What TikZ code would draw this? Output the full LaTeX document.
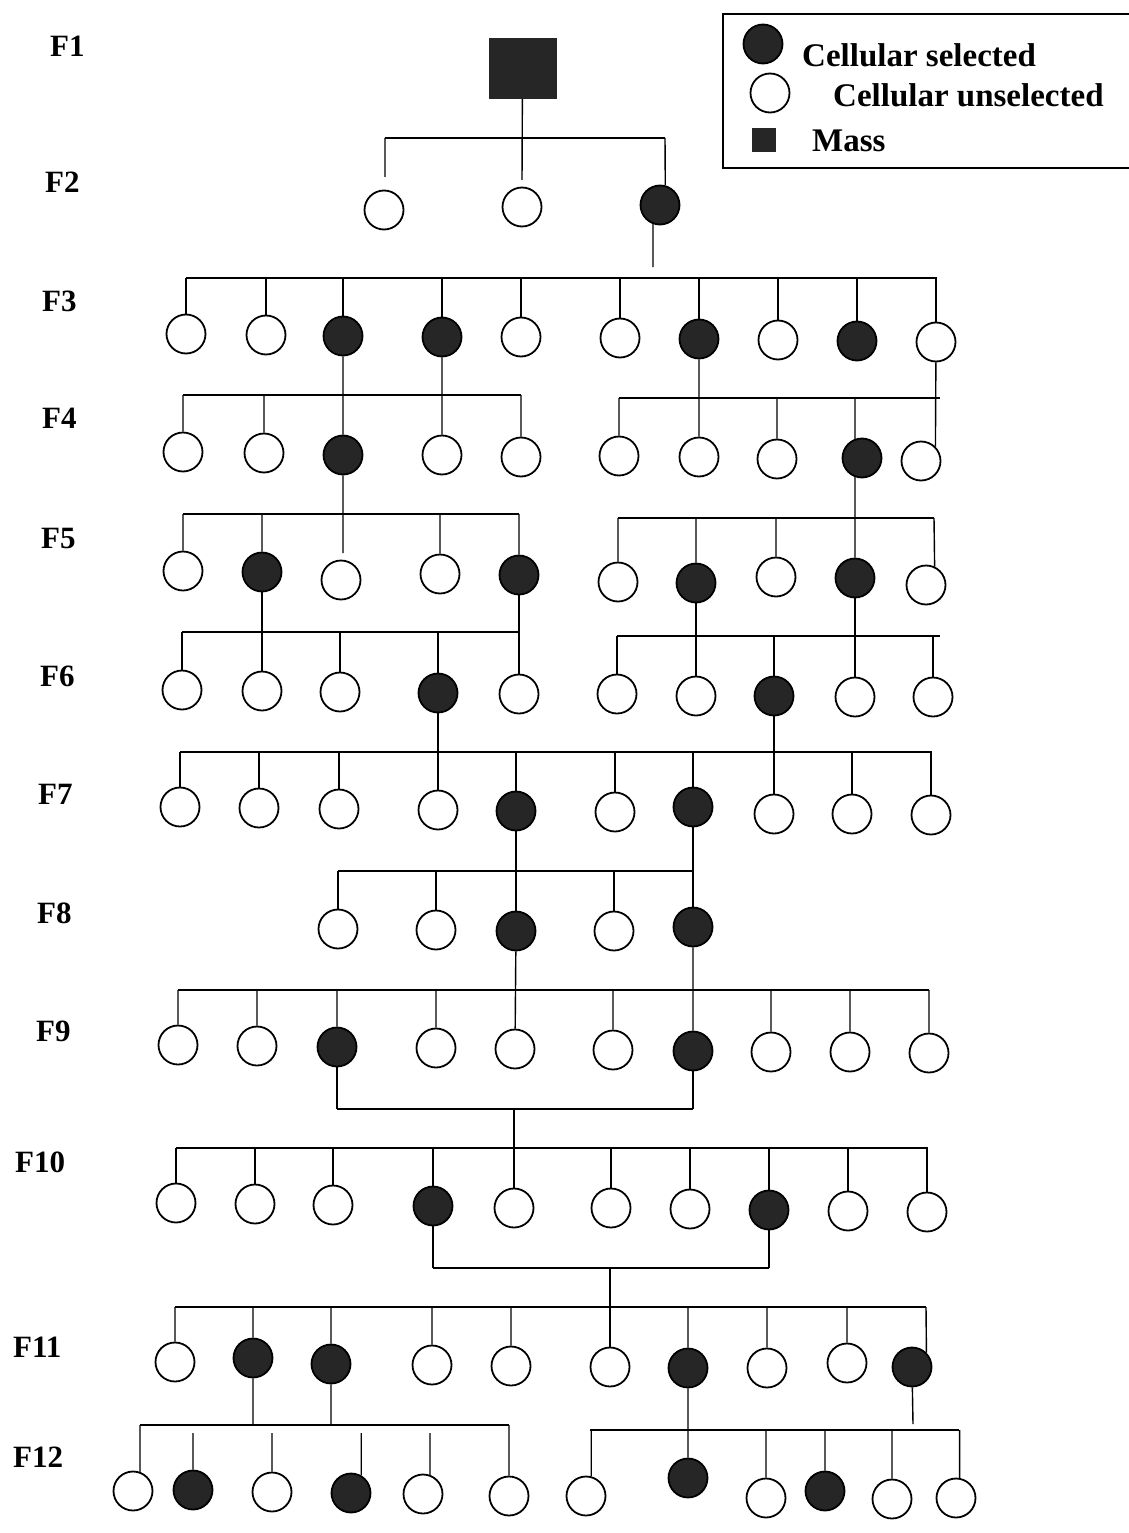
\documentclass[tikz,border=0pt]{standalone}
\usepackage{fontspec}
\setmainfont{Liberation Serif}
\usetikzlibrary{automata}
\tikzset{
  every state/.style={draw, line width=1.8pt, minimum size=39pt, inner sep=0pt},
  sel/.style={state, fill=black!85},
  unsel/.style={state, fill=white},
  mass/.style={rectangle, fill=black!85, inner sep=0pt},
  genlabel/.style={anchor=base west, inner sep=0pt, font=\fontsize{31}{36}\selectfont\bfseries},
  keytext/.style={anchor=base west, inner sep=0pt, font=\fontsize{33}{38}\selectfont\bfseries},
  hbar/.style={line width=2.2pt},
  vline/.style={line width=1.4pt},
}

\begin{document}
\begin{tikzpicture}[x=1pt, y=-1pt]
      \useasboundingbox (0,0) rectangle (1128,1533);

      % generation labels
      \node[genlabel] (l1)  at (50,57)   {F1};
      \node[genlabel] (l2)  at (45,193)  {F2};
      \node[genlabel] (l3)  at (42,311)  {F3};
      \node[genlabel] (l4)  at (42,428)  {F4};
      \node[genlabel] (l5)  at (41,548)  {F5};
      \node[genlabel] (l6)  at (40,686)  {F6};
      \node[genlabel] (l7)  at (38,804)  {F7};
      \node[genlabel] (l8)  at (37,923)  {F8};
      \node[genlabel] (l9)  at (36,1041) {F9};
      \node[genlabel] (l10) at (15,1172) {F10};
      \node[genlabel] (l11) at (13,1357) {F11};
      \node[genlabel] (l12) at (13,1467) {F12};

      % key
      \node[draw, line width=1.6pt, anchor=north west, minimum width=430pt, minimum height=154pt] (key) at (722,13) {};
      \node[sel]   (ksel)  at (763,44)  {};
      \node[unsel] (kuns)  at (770,93)  {};
      \node[mass, minimum size=24pt] (kmass) at (764,140) {};
      \node[keytext] (tsel)  at (802,67)  {Cellular selected};
      \node[keytext] (tuns)  at (833,107) {Cellular unselected};
      \node[keytext] (tmass) at (812,152) {Mass};

      % F1, F2
      \node[mass, minimum width=68pt, minimum height=61pt] (f1) at (522.5,68.5) {};
      \node[unsel] (f2a) at (384,210) {};
      \node[unsel] (f2b) at (522,207) {};
      \node[sel]   (f2c) at (660,205) {};

      % F3
      \node[unsel] (f3a) at (186,334) {};
      \node[unsel] (f3b) at (266,335) {};
      \node[sel]   (f3c) at (343,336) {};
      \node[sel]   (f3d) at (442,337) {};
      \node[unsel] (f3e) at (521,337) {};
      \node[unsel] (f3f) at (620,338) {};
      \node[sel]   (f3g) at (699,339) {};
      \node[unsel] (f3h) at (778,340) {};
      \node[sel]   (f3i) at (857,341) {};
      \node[unsel] (f3j) at (936,342) {};

      % F4
      \node[unsel] (f4a) at (183,452) {};
      \node[unsel] (f4b) at (264,453) {};
      \node[sel]   (f4c) at (343,455) {};
      \node[unsel] (f4d) at (442,455) {};
      \node[unsel] (f4e) at (521,457) {};
      \node[unsel] (f4f) at (619,456) {};
      \node[unsel] (f4g) at (699,457) {};
      \node[unsel] (f4h) at (777,459) {};
      \node[sel]   (f4i) at (862,458) {};
      \node[unsel] (f4j) at (921,461) {};

      % F5
      \node[unsel] (f5a) at (183,571) {};
      \node[sel]   (f5b) at (262,572) {};
      \node[unsel] (f5c) at (341,580) {};
      \node[unsel] (f5d) at (440,574) {};
      \node[sel]   (f5e) at (519,575) {};
      \node[unsel] (f5f) at (618,582) {};
      \node[sel]   (f5g) at (696,583) {};
      \node[unsel] (f5h) at (776,577) {};
      \node[sel]   (f5i) at (855,578) {};
      \node[unsel] (f5j) at (926,585) {};

      % F6
      \node[unsel] (f6a) at (182,690) {};
      \node[unsel] (f6b) at (262,691) {};
      \node[unsel] (f6c) at (340,692) {};
      \node[sel]   (f6d) at (438,693) {};
      \node[unsel] (f6e) at (519,694) {};
      \node[unsel] (f6f) at (617,694) {};
      \node[unsel] (f6g) at (696,696) {};
      \node[sel]   (f6h) at (774,696) {};
      \node[unsel] (f6i) at (855,697) {};
      \node[unsel] (f6j) at (933,697) {};

      % F7
      \node[unsel] (f7a) at (180,807) {};
      \node[unsel] (f7b) at (259,808) {};
      \node[unsel] (f7c) at (339,809) {};
      \node[unsel] (f7d) at (438,810) {};
      \node[sel]   (f7e) at (516,811) {};
      \node[unsel] (f7f) at (615,812) {};
      \node[sel]   (f7g) at (693,807) {};
      \node[unsel] (f7h) at (774,814) {};
      \node[unsel] (f7i) at (852,814) {};
      \node[unsel] (f7j) at (931,815) {};

      % F8
      \node[unsel] (f8a) at (338,929) {};
      \node[unsel] (f8b) at (436,930) {};
      \node[sel]   (f8c) at (516,931) {};
      \node[unsel] (f8d) at (614,931) {};
      \node[sel]   (f8e) at (693,927) {};

      % F9
      \node[unsel] (f9a) at (178,1045) {};
      \node[unsel] (f9b) at (257,1046) {};
      \node[sel]   (f9c) at (337,1047) {};
      \node[unsel] (f9d) at (436,1048) {};
      \node[unsel] (f9e) at (515,1049) {};
      \node[unsel] (f9f) at (613,1050) {};
      \node[sel]   (f9g) at (693,1051) {};
      \node[unsel] (f9h) at (771,1052) {};
      \node[unsel] (f9i) at (850,1052) {};
      \node[unsel] (f9j) at (929,1053) {};

      % F10
      \node[unsel] (f10a) at (176,1203) {};
      \node[unsel] (f10b) at (255,1204) {};
      \node[unsel] (f10c) at (333,1205) {};
      \node[sel]   (f10d) at (433,1206) {};
      \node[unsel] (f10e) at (514,1208) {};
      \node[unsel] (f10f) at (611,1208) {};
      \node[unsel] (f10g) at (690,1209) {};
      \node[sel]   (f10h) at (769,1210) {};
      \node[unsel] (f10i) at (848,1211) {};
      \node[unsel] (f10j) at (927,1212) {};

      % F11
      \node[unsel] (f11a) at (175,1362) {};
      \node[sel]   (f11b) at (253,1358) {};
      \node[sel]   (f11c) at (331,1364) {};
      \node[unsel] (f11d) at (432,1365) {};
      \node[unsel] (f11e) at (511,1366) {};
      \node[unsel] (f11f) at (610,1367) {};
      \node[sel]   (f11g) at (688,1368) {};
      \node[unsel] (f11h) at (767,1368) {};
      \node[unsel] (f11i) at (847,1363) {};
      \node[sel]   (f11j) at (912,1367) {};

      % F12
      \node[unsel] (f12a) at (133,1491) {};
      \node[sel]   (f12b) at (193,1490) {};
      \node[unsel] (f12c) at (272,1492) {};
      \node[sel]   (f12d) at (351,1493) {};
      \node[unsel] (f12e) at (423,1494) {};
      \node[unsel] (f12f) at (509,1496) {};
      \node[unsel] (f12g) at (586,1496) {};
      \node[sel]   (f12h) at (688,1478) {};
      \node[unsel] (f12i) at (766,1498) {};
      \node[sel]   (f12j) at (825,1491) {};
      \node[unsel] (f12k) at (892,1499) {};
      \node[unsel] (f12l) at (956,1498) {};

      % bar ends and loose ends
      \coordinate (b2l) at (385,138);   \coordinate (b2r) at (665,138);
      \coordinate (b3l) at (186,278);   \coordinate (b3r) at (937,278);
      \coordinate (b4l) at (183,395);   \coordinate (b4m) at (521,395);
      \coordinate (b4n) at (619,398);   \coordinate (b4r) at (940,398);
      \coordinate (b5l) at (183,514);   \coordinate (b5m) at (519,514);
      \coordinate (b5n) at (618,518);   \coordinate (b5r) at (934,518);
      \coordinate (b6l) at (182,632);   \coordinate (b6m) at (519,632);
      \coordinate (b6n) at (617,636);   \coordinate (b6r) at (940,636);
      \coordinate (b7l) at (180,752);   \coordinate (b7r) at (932,752);
      \coordinate (b8l) at (338,871);   \coordinate (b8r) at (693,871);
      \coordinate (b9l) at (178,990);   \coordinate (b9r) at (929,990);
      \coordinate (b10l) at (176,1148); \coordinate (b10r) at (928,1148);
      \coordinate (b11l) at (175,1307); \coordinate (b11r) at (926,1307);
      \coordinate (b12l) at (140,1425); \coordinate (b12m) at (509,1425);
      \coordinate (b12n) at (590,1430); \coordinate (b12r) at (959,1430);
      \coordinate (j9l) at (337,1109);  \coordinate (j9r) at (693,1109);
      \coordinate (j9m) at (514,1109);
      \coordinate (j10l) at (433,1268); \coordinate (j10r) at (769,1268);
      \coordinate (j10m) at (610,1268);
      \coordinate (d2a) at (385,177);   \coordinate (d2b) at (522,180);
      \coordinate (e2) at (653,267);    \coordinate (e5) at (343,553);
      \coordinate (e11) at (913,1424);  \coordinate (g12) at (0,1433);

      % bars
      \draw[hbar] (b2l) -- (b2r)  (b3l) -- (b3r)
                  (b4l) -- (b4m)  (b4n) -- (b4r)
                  (b5l) -- (b5m)  (b5n) -- (b5r)
                  (b6l) -- (b6m)  (b6n) -- (b6r)
                  (b7l) -- (b7r)  (b8l) -- (b8r)
                  (b9l) -- (b9r)  (b10l) -- (b10r)
                  (b11l) -- (b11r)
                  (b12l) -- (b12m)  (b12n) -- (b12r)
                  (j9l) -- (j9r)  (j10l) -- (j10r);

      % F1 -> F2 -> F3
      \draw[vline] (f1) -- (d2b)  (b2l) -- (d2a)  (b2r) -- (f2c.75)
                   (f2c.250) -- (e2);
      \draw[vline] (f3a |- b3l) -- (f3a.north)  (f3b |- b3l) -- (f3b.north)
                   (f3c |- b3l) -- (f3c.north)  (f3d |- b3l) -- (f3d.north)
                   (f3e |- b3l) -- (f3e.north)  (f3f |- b3l) -- (f3f.north)
                   (f3g |- b3l) -- (f3g.north)  (f3h |- b3l) -- (f3h.north)
                   (f3i |- b3l) -- (f3i.north)  (f3j |- b3l) -- (f3j.north);

      % F3 -> F4
      \draw[vline] (f4a |- b4l) -- (f4a.north)  (f4b |- b4l) -- (f4b.north)
                   (f3c) -- (f4c)  (f3d) -- (f4d)
                   (f4e |- b4l) -- (f4e.north)
                   (f4f |- b4n) -- (f4f.north)  (f3g) -- (f4g)
                   (f4h |- b4n) -- (f4h.north)
                   (f4i.110 |- b4n) -- (f4i.110)  (f3j) -- (f4j.north east);

      % F4 -> F5
      \draw[vline] (f5a |- b5l) -- (f5a.north)  (f5b |- b5l) -- (f5b.north)
                   (f4c) -- (e5)
                   (f5d |- b5l) -- (f5d.north)  (f5e |- b5l) -- (f5e.north)
                   (f5f |- b5n) -- (f5f.north)  (f5g |- b5n) -- (f5g.north)
                   (f5h |- b5n) -- (f5h.north)  (f4i.250) -- (f5i)
                   (b5r) -- (f5j.65);

      % F5 -> F6
      \draw[vline] (f6a |- b6l) -- (f6a.north)  (f5b) -- (f6b)
                   (f6c |- b6l) -- (f6c.north)  (f6d |- b6l) -- (f6d.north)
                   (f5e) -- (f6e)
                   (f6f |- b6n) -- (f6f.north)  (f5g) -- (f6g)
                   (f6h |- b6n) -- (f6h.north)  (f5i) -- (f6i)
                   (f6j |- b6n) -- (f6j.north);

      % F6 -> F7
      \draw[vline] (f7a |- b7l) -- (f7a.north)  (f7b |- b7l) -- (f7b.north)
                   (f7c |- b7l) -- (f7c.north)  (f6d) -- (f7d)
                   (f7e |- b7l) -- (f7e.north)  (f7f |- b7l) -- (f7f.north)
                   (f7g |- b7l) -- (f7g.north)  (f6h) -- (f7h)
                   (f7i |- b7l) -- (f7i.north)  (f7j |- b7l) -- (f7j.north);

      % F7 -> F8
      \draw[vline] (f8a |- b8l) -- (f8a.north)  (f8b |- b8l) -- (f8b.north)
                   (f7e) -- (f8c)  (f8d |- b8l) -- (f8d.north)
                   (f7g) -- (f8e);

      % F8 -> F9
      \draw[vline] (f9a |- b9l) -- (f9a.north)  (f9b |- b9l) -- (f9b.north)
                   (f9c |- b9l) -- (f9c.north)  (f9d |- b9l) -- (f9d.north)
                   (f8c) -- (f9e)  (f9f |- b9l) -- (f9f.north)
                   (f8e) -- (f9g)  (f9h |- b9l) -- (f9h.north)
                   (f9i |- b9l) -- (f9i.north)  (f9j |- b9l) -- (f9j.north);

      % F9 -> F10
      \draw[vline] (f9c) -- (j9l)  (f9g) -- (j9r)  (j9m) -- (f10e);
      \draw[vline] (f10a |- b10l) -- (f10a.north)  (f10b |- b10l) -- (f10b.north)
                   (f10c |- b10l) -- (f10c.north)  (f10d |- b10l) -- (f10d.north)
                   (f10f |- b10l) -- (f10f.north)  (f10g |- b10l) -- (f10g.north)
                   (f10h |- b10l) -- (f10h.north)  (f10i |- b10l) -- (f10i.north)
                   (f10j |- b10l) -- (f10j.north);

      % F10 -> F11
      \draw[vline] (f10d) -- (j10l)  (f10h) -- (j10r)  (j10m) -- (f11f);
      \draw[vline] (f11a |- b11l) -- (f11a.north)  (f11b |- b11l) -- (f11b.north)
                   (f11c |- b11l) -- (f11c.north)  (f11d |- b11l) -- (f11d.north)
                   (f11e |- b11l) -- (f11e.north)  (f11g |- b11l) -- (f11g.north)
                   (f11h |- b11l) -- (f11h.north)  (f11i |- b11l) -- (f11i.north)
                   (b11r) -- (f11j.north east);

      % F11 -> F12
      \draw[vline] (f11b) -- (f11b |- b12l)  (f11c) -- (f11c |- b12l)
                   (f11g) -- (f12h)  (f11j) -- (e11);
      \draw[vline] (b12l) -- (f12a.70)  (f12b |- g12) -- (f12b.north)
                   (f12c |- g12) -- (f12c.north)  (f12d.60 |- g12) -- (f12d.60)
                   (f12e.70 |- g12) -- (f12e.70)  (b12m) -- (f12f.north)
                   (f12g.75 |- b12n) -- (f12g.75)  (f12i |- b12n) -- (f12i.north)
                   (f12j |- b12n) -- (f12j.north)  (f12k |- b12n) -- (f12k.north)
                   (f12l.80 |- b12n) -- (f12l.80);
\end{tikzpicture}
\end{document}
